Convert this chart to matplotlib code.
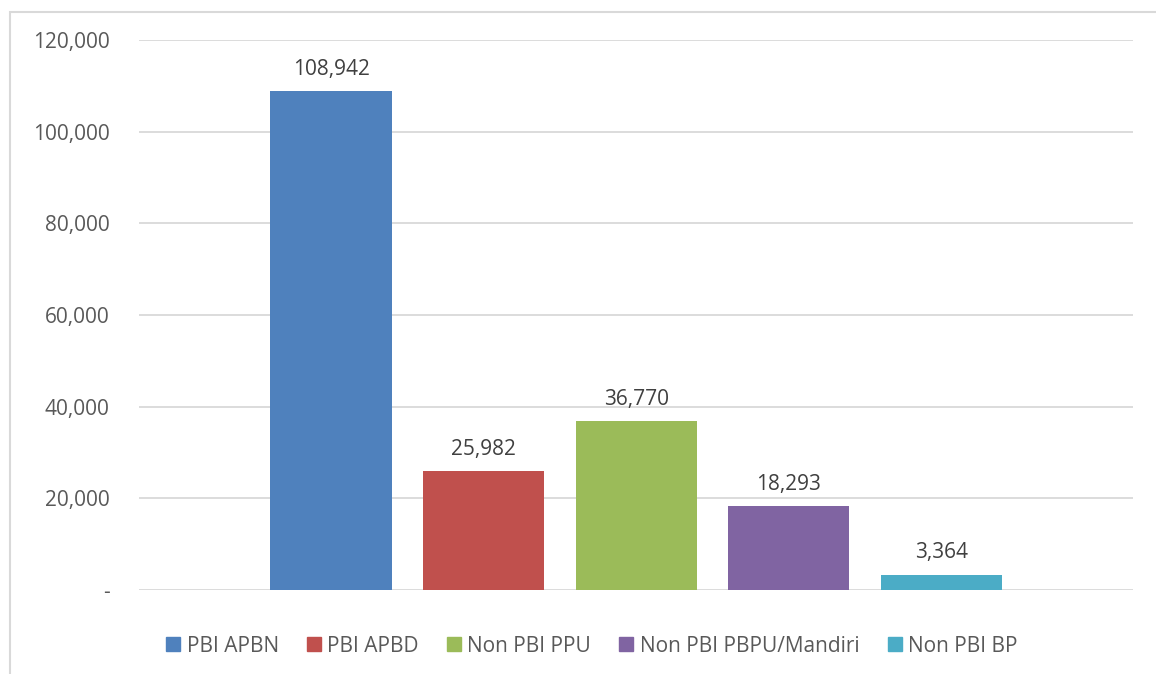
import matplotlib.pyplot as plt
from matplotlib.patches import Rectangle, Patch
from matplotlib.ticker import FuncFormatter

plt.rcParams["font.family"] = ["Open Sans", "DejaVu Sans"]

categories = ["PBI APBN", "PBI APBD", "Non PBI PPU", "Non PBI PBPU/Mandiri", "Non PBI BP"]
values = [108942, 25982, 36770, 18293, 3364]
colors = ["#4F81BD", "#C0504D", "#9BBB59", "#8064A2", "#4BACC6"]
text_color = "#595959"

fig = plt.figure(figsize=(11.56, 6.74), dpi=100)
ax = fig.add_axes([139 / 1156, 1 - 590 / 674, (1133 - 139) / 1156, (590 - 40) / 674])

x = list(range(len(values)))
ax.bar(x, values, width=0.795, color=colors, zorder=3)
for xi, v in zip(x, values):
    ax.annotate(f"{v:,}", (xi, v), xytext=(0, 8), textcoords="offset points",
                ha="center", va="bottom", fontsize=15, color="#404040")

ax.set_xlim(-1.259, 5.256)
ax.set_ylim(0, 120000)
ax.set_yticks(range(0, 120001, 20000))
ax.yaxis.set_major_formatter(FuncFormatter(lambda v, p: "-" if v == 0 else f"{int(v):,}"))
ax.tick_params(axis="y", length=0, labelsize=15, labelcolor=text_color, pad=21)
ax.set_xticks([])
ax.grid(axis="y", color="#d9d9d9", linewidth=1.3, zorder=0)
for s in ax.spines.values():
    s.set_visible(False)

handles = [Patch(color=c) for c in colors]
fig.legend(handles, categories, loc="center", bbox_to_anchor=(0.512, 1 - 646 / 674),
           ncol=5, frameon=False, fontsize=15, labelcolor=text_color,
           handlelength=0.67, handleheight=0.67, handletextpad=0.3, columnspacing=1.36)

fig.patches.append(Rectangle((10 / 1156, -0.1), 1.2, 1 - 12 / 674 + 0.1,
                             transform=fig.transFigure, fill=False,
                             edgecolor="#d9d9d9", linewidth=1.5))

fig.savefig("out.png", dpi=100)
